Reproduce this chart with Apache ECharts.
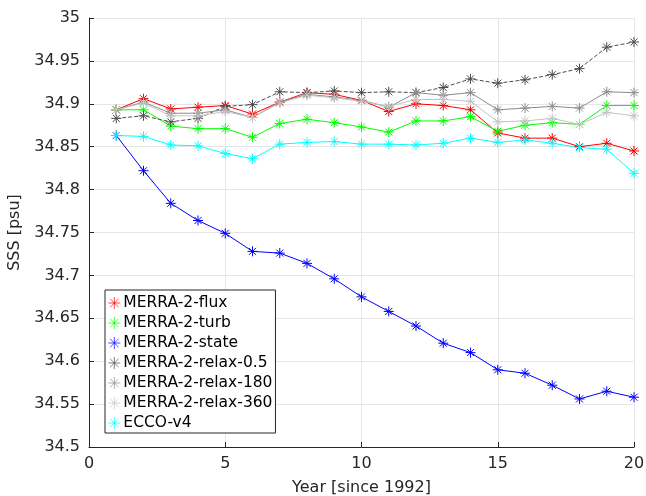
<!DOCTYPE html>
<html>
<head>
<meta charset="utf-8">
<script src="https://cdn.jsdelivr.net/npm/echarts@6/dist/echarts.min.js"></script>
<style>html,body{margin:0;padding:0;background:#fff;}#c{width:646px;height:496px;}</style>
</head>
<body>
<div id="c"></div>
<script>
const years = [1,2,3,4,5,6,7,8,9,10,11,12,13,14,15,16,17,18,19,20];
const flux = [34.893,34.906,34.894,34.896,34.898,34.888,34.902,34.913,34.911,34.904,34.891,34.900,34.898,34.893,34.866,34.860,34.860,34.850,34.854,34.845];
const turb = [34.893,34.893,34.874,34.871,34.871,34.861,34.877,34.882,34.878,34.873,34.867,34.880,34.880,34.885,34.868,34.875,34.878,34.876,34.898,34.898];
const state = [34.863,34.822,34.784,34.764,34.749,34.728,34.726,34.714,34.696,34.675,34.658,34.641,34.621,34.610,34.590,34.586,34.572,34.556,34.565,34.558];
const relax05 = [34.883,34.886,34.879,34.883,34.897,34.899,34.914,34.913,34.915,34.913,34.914,34.913,34.919,34.929,34.924,34.928,34.934,34.941,34.966,34.972];
const relax180 = [34.893,34.902,34.889,34.889,34.893,34.884,34.902,34.911,34.908,34.904,34.896,34.913,34.910,34.913,34.893,34.895,34.897,34.895,34.914,34.913];
const relax360 = [34.893,34.901,34.886,34.886,34.891,34.884,34.901,34.910,34.907,34.903,34.897,34.905,34.905,34.903,34.879,34.880,34.883,34.876,34.890,34.886];
const ecco = [34.863,34.862,34.852,34.851,34.842,34.836,34.853,34.855,34.856,34.853,34.853,34.852,34.854,34.860,34.855,34.858,34.854,34.849,34.847,34.819];
const seriesNames = ['MERRA-2-flux','MERRA-2-turb','MERRA-2-state','MERRA-2-relax-0.5','MERRA-2-relax-180','MERRA-2-relax-360','ECCO-v4'];

const star = 'path://M0 10 L20 10 M10 0 L10 20 M3 3 L17 17 M17 3 L3 17';
const FONT = 'DejaVu Sans';
const txt = '#262626';

function pairs(arr){ return years.map((y,i)=>[y,arr[i]]); }
const defs = [
  [flux,'#ff0000','solid'],
  [turb,'#00ff00','solid'],
  [state,'#0000ff','solid'],
  [relax05,'#4d4d4d','dashed'],
  [relax180,'#8c8c8c','solid'],
  [relax360,'#c4c4c4','solid'],
  [ecco,'#00ffff','solid']
];
const series = defs.map((d,i)=>({
  name: seriesNames[i],
  type:'line',
  data: pairs(d[0]),
  symbol: star,
  symbolSize: 10,
  showSymbol:true,
  lineStyle:{color:d[1],width:1,type:d[2]},
  itemStyle:{color:d[1],borderColor:d[1],borderWidth:1},
  emphasis:{disabled:true},
  animation:false
}));

const chart = echarts.init(document.getElementById('c'), null, {renderer:'canvas'});
chart.setOption({
  animation:false,
  backgroundColor:'#fff',
  textStyle:{fontFamily:FONT},
  grid:{left:89,right:12,top:18,bottom:49,containLabel:false,outerBoundsMode:'none'},
  xAxis:{
    type:'value',min:0,max:20,interval:5,
    name:'Year [since 1992]',nameLocation:'middle',nameGap:33,
    nameTextStyle:{fontFamily:FONT,fontSize:16,color:txt},
    axisLine:{show:true,onZero:false,lineStyle:{color:txt,width:1}},
    axisTick:{show:true,inside:true,length:5,lineStyle:{color:txt}},
    axisLabel:{fontFamily:FONT,fontSize:16,color:txt,margin:9},
    splitLine:{show:true,lineStyle:{color:'#e6e6e6',width:1}}
  },
  yAxis:{
    type:'value',min:34.5,max:35,interval:0.05,
    name:'SSS [psu]',nameLocation:'middle',nameGap:66,nameRotate:90,
    nameTextStyle:{fontFamily:FONT,fontSize:16,color:txt},
    axisLine:{show:true,onZero:false,lineStyle:{color:txt,width:1}},
    axisTick:{show:true,inside:true,length:5,lineStyle:{color:txt}},
    axisLabel:{fontFamily:FONT,fontSize:16,color:txt,margin:9,formatter:v=>String(+v.toFixed(2))},
    splitLine:{show:true,lineStyle:{color:'#e6e6e6',width:1}}
  },
  legend:{
    orient:'vertical',left:105,top:290,
    data:seriesNames,
    icon:star,itemWidth:12,itemHeight:12,itemGap:4,
    itemStyle:{borderWidth:0.7},
    backgroundColor:'#fff',borderColor:'#262626',borderWidth:1,borderRadius:0,
    padding:[5,3,2,3],
    textStyle:{fontFamily:FONT,fontSize:15.5,color:'#000',padding:[0,0,0,-2]},
    selectedMode:false
  },
  series: series
});
</script>
</body>
</html>
